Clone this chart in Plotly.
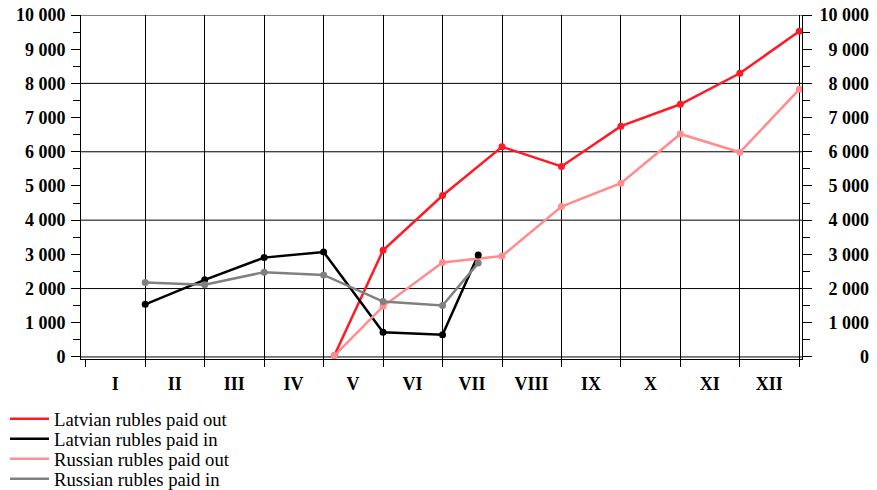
import plotly.graph_objects as go

# ---- data ----
months = ["I", "II", "III", "IV", "V", "VI", "VII", "VIII", "IX", "X", "XI", "XII"]
month_edges = [0, 1, 2, 3, 4, 5, 6, 7, 8, 9, 10, 11, 12]

x_paid_out = [4.18, 5, 6, 7, 8, 9, 10, 11, 12]
latvian_paid_out = [40, 3120, 4720, 6145, 5570, 6750, 7390, 8295, 9525]
russian_paid_out = [40, 1480, 2760, 2950, 4400, 5080, 6520, 5985, 7825]

x_paid_in = [1, 2, 3, 4, 5, 6, 6.6]
latvian_paid_in = [1540, 2255, 2905, 3070, 720, 650, 2985]
russian_paid_in = [2175, 2110, 2480, 2400, 1620, 1505, 2745]

y_ticks = list(range(0, 10001, 1000))
y_grid = list(range(0, 10001, 2000))

series = [
    ("Latvian rubles paid out", x_paid_out, latvian_paid_out, "#ff1a26"),
    ("Latvian rubles paid in", x_paid_in, latvian_paid_in, "#000000"),
    ("Russian rubles paid out", x_paid_out, russian_paid_out, "#ff8c8f"),
    ("Russian rubles paid in", x_paid_in, russian_paid_in, "#808080"),
]
legend_ids = ["legend", "legend2", "legend3", "legend4"]

# page body has an 8px margin -> figure is 869x482 placed at (8, 8)
W, H = 869, 482
OFF = 8
ML, MR, MT, MB = 73, 75, 7, 131
legend_rows_px = [419, 439, 459, 479]  # window pixels
legend_left_px = 5  # window pixels

FONT = "Liberation Serif"
FS = 18

def fmt(v):
    return f"{v:,}".replace(",", "\u00a0")

left_text = [fmt(v) for v in y_ticks]
maxlen_units = 2 * 5 + 1  # '10 000' in half-digit units (digit=2, space=1)
def pad(s):
    units = sum(2 if c.isdigit() else 1 for c in s)
    return "\u00a0" * (maxlen_units - units) + s
right_text = [pad(s) for s in left_text]

fig = go.Figure()
for (name, xs, ys, col), lg in zip(series, legend_ids):
    fig.add_trace(go.Scatter(x=xs, y=ys, mode="lines", name=name, legend=lg,
                             line=dict(color=col, width=2.5), yaxis="y"))
for name, xs, ys, col in series:
    fig.add_trace(go.Scatter(x=xs, y=ys, mode="markers", name=name,
                             showlegend=False, marker=dict(color=col, size=7), yaxis="y2"))

YR = [-60, 10000]
XR = [-0.08, 12.045]

tickfont = dict(family=FONT, size=FS, color="black", weight="bold")

plot_w = W - ML - MR
layout_legends = {}
for lg, py in zip(legend_ids, legend_rows_px):
    layout_legends[lg] = dict(xref="paper", yref="container",
                              x=(legend_left_px - OFF - ML) / plot_w,
                              y=1 - (py - OFF) / H,
                              xanchor="left", yanchor="middle",
                              font=dict(family=FONT, size=18.7, color="black"),
                              bgcolor="rgba(0,0,0,0)", itemwidth=39, borderwidth=0)

fig.update_layout(
    width=W, height=H,
    margin=dict(l=ML, r=MR, t=MT, b=MB, autoexpand=False),
    paper_bgcolor="white", plot_bgcolor="white",
    font=dict(family=FONT, size=FS, color="black"),
    showlegend=True,
    **layout_legends,
    xaxis=dict(range=XR, tickmode="array", tickvals=month_edges[1:], ticktext=months,
               ticklabelshift=-30, ticklabelstandoff=1,
               ticks="outside", ticklen=7, tickcolor="black", tickwidth=1,
               showgrid=True, gridcolor="black", gridwidth=1, zeroline=False,
               showline=True, linecolor="black", linewidth=1,
               minor=dict(tickmode="array", tickvals=[month_edges[0]], ticks="outside",
                          ticklen=7, tickcolor="black", showgrid=False),
               tickfont=tickfont, ticklabeloverflow="allow"),
    yaxis=dict(range=YR, tickmode="array", tickvals=y_ticks, ticktext=left_text,
               ticks="outside", ticklen=9, tickcolor="black", ticklabelstandoff=2,
               showgrid=False, zeroline=False,
               showline=True, linecolor="black", linewidth=1,
               minor=dict(dtick=500, tick0=0, ticks="outside", ticklen=7,
                          tickcolor="black", showgrid=False),
               tickfont=tickfont, ticklabeloverflow="allow"),
    yaxis2=dict(range=YR, overlaying="y", side="right", anchor="x", matches="y",
                tickmode="array", tickvals=y_ticks, ticktext=right_text,
                ticks="outside", ticklen=9, tickcolor="black", ticklabelstandoff=4,
                showgrid=False, zeroline=False,
                showline=True, linecolor="black", linewidth=1,
                minor=dict(dtick=500, tick0=0, ticks="outside", ticklen=7,
                           tickcolor="black", showgrid=False),
                tickfont=tickfont, ticklabeloverflow="allow"),
    shapes=[dict(type="line", xref="paper", x0=0, x1=1, yref="y", y0=v, y1=v,
                 line=dict(color="black", width=1), layer="below") for v in y_grid],
)

fig.write_html("out.html")
